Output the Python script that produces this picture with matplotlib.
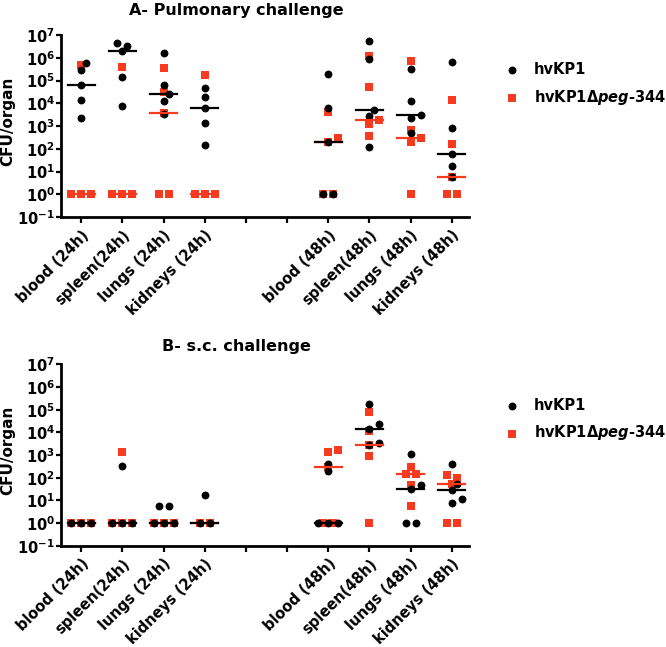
import matplotlib.pyplot as plt
import numpy as np

plt.rcParams["font.family"] = ["DejaVu Sans"]
plt.rcParams["font.weight"] = "bold"
plt.rcParams["axes.labelweight"] = "bold"
plt.rcParams["mathtext.fontset"] = "custom"
plt.rcParams["mathtext.rm"] = "DejaVu Sans:bold"
plt.rcParams["mathtext.it"] = "DejaVu Sans:bold:italic"
plt.rcParams["mathtext.bf"] = "DejaVu Sans:bold"

# ---------------------------------------------------------------------
# Data (CFU/organ, 1 = detection limit)
# ---------------------------------------------------------------------

groups = ["blood (24h)", "spleen(24h)", "lungs (24h)", "kidneys (24h)",
          "blood (48h)", "spleen(48h)", "lungs (48h)", "kidneys (48h)"]
group_pos = [0, 1, 2, 3, 6, 7, 8, 9]

pulm_wt = [
    [5.6e5, 2.9e5, 6.3e4, 1.4e4, 2.3e3],
    [4.6e6, 3.4e6, 1.9e6, 1.4e5, 7.2e3],
    [1.7e6, 6.3e4, 2.5e4, 1.3e4, 3.5e3],
    [4.5e4, 1.9e4, 6.5e3, 1.4e3, 1.4e2],
    [2.0e5, 5.9e3, 2.0e2, 1, 1],
    [5.6e6, 9.1e5, 5.0e3, 2.7e3, 1.2e2],
    [3.3e5, 1.2e4, 2.9e3, 2.3e3, 5.0e2],
    [6.8e5, 8.5e2, 58, 17, 5.8],
]
pulm_mut = [
    [4.8e5, 1, 1, 1],
    [3.8e5, 1, 1, 1],
    [3.4e5, 3.2e4, 3.8e3, 1, 1],
    [1.7e5, 1, 1, 1],
    [4.0e3, 3.1e2, 2.0e2, 1, 1],
    [1.2e6, 5.0e4, 1.8e3, 1.2e3, 3.6e2],
    [7.1e5, 6.6e2, 3.1e2, 2.0e2, 1],
    [1.4e4, 1.7e2, 5.8, 1, 1],
]
sc_wt = [
    [1, 1, 1],
    [3.4e2, 1, 1, 1],
    [5.6, 5.6, 1, 1, 1],
    [17, 1, 1],
    [3.9e2, 1.9e2, 1, 1, 1],
    [1.8e5, 2.3e4, 1.4e4, 3.5e3, 2.8e3],
    [1.1e3, 48, 31, 1, 1],
    [4.0e2, 50, 30, 12, 7.6],
]
sc_mut = [
    [1, 1, 1],
    [1.4e3, 1, 1, 1],
    [1, 1, 1],
    [1, 1],
    [1.7e3, 1.4e3, 2.9e2, 1, 1],
    [7.6e4, 1.1e4, 2.8e3, 8.7e2, 1],
    [3.0e2, 1.4e2, 1.4e2, 48, 5.6],
    [1.3e2, 1.0e2, 52, 1, 1],
]

BLACK = "black"
RED = "#F83B1E"


def swarm(vals, px_unit=41.2, px_decade=22.7, step=5.0, mindist=7.0):
    # simple beeswarm on a grid of sideways steps
    logs = np.log10(vals)
    placed = []
    offs = np.zeros(len(vals))
    for i in np.argsort(logs):
        y = logs[i] * px_decade
        k = 0
        found = None
        while found is None:
            for c in ([0] if k == 0 else [k, -k]):
                x = c * step
                if all(np.hypot(x - px, y - py) >= mindist for px, py in placed):
                    found = x
                    break
            k += 1
        placed.append((found, y))
        offs[i] = found
    # center runs of identical values
    for v in np.unique(logs):
        same = logs == v
        if same.sum() > 1:
            offs[same] -= offs[same].mean()
    return offs / px_unit


def draw_panel(ax, wt, mut, title, title_y, legend_y):
    for pos, w, m in zip(group_pos, wt, mut):
        m = np.array(m, dtype=float)
        w = np.array(w, dtype=float)
        hm = ax.scatter(pos + swarm(m), m, marker="s", s=28, color=RED,
                        linewidths=0, zorder=3)
        hw = ax.scatter(pos + swarm(w), w, marker="o", s=32, color=BLACK,
                        linewidths=0, zorder=4)
        ax.plot([pos - 0.33, pos + 0.33], [np.median(m)] * 2, color=RED,
                lw=1.6, zorder=5)
        ax.plot([pos - 0.33, pos + 0.33], [np.median(w)] * 2, color=BLACK,
                lw=1.6, zorder=6)

    ax.set_yscale("log")
    ax.set_ylim(1e-1, 1e7)
    ax.set_xlim(-0.49, 9.42)
    exps = range(-1, 8)
    ax.set_yticks([10.0 ** e for e in exps])
    ax.set_yticklabels([r"$10^{%d}$" % e for e in exps])
    ax.yaxis.set_minor_locator(plt.NullLocator())
    ax.set_xticks(range(10))
    labels = [""] * 10
    for pos, g in zip(group_pos, groups):
        labels[pos] = g
    ax.set_xticklabels(labels, rotation=45, ha="right", rotation_mode="anchor",
                       fontsize=10.5)
    ax.tick_params(axis="y", labelsize=10.5, length=3.5, width=1.6, pad=1)
    ax.tick_params(axis="x", length=4.5, width=1.6, pad=3)
    for side in ["top", "right"]:
        ax.spines[side].set_visible(False)
    for side in ["left", "bottom"]:
        ax.spines[side].set_linewidth(2)
    ax.set_ylabel("CFU/organ", fontsize=11)
    ax.yaxis.set_label_coords(-0.113, 0.525)
    ax.text(0.43, title_y, title, transform=ax.transAxes, ha="center",
            va="baseline", fontsize=11.5)
    ax.legend([hw, hm], ["hvKP1", r"hvKP1Δ$\mathit{peg}$-$\mathit{344}$"],
              loc="upper left", bbox_to_anchor=(1.0875, legend_y),
              frameon=False, borderaxespad=0, borderpad=0, handlelength=1.0,
              handletextpad=1.0, labelspacing=0.75, fontsize=10.5)


fig = plt.figure(figsize=(6.66, 6.47), dpi=100)
ax_a = fig.add_axes([0.0916, 0.6646, 0.6126, 0.2813])
ax_b = fig.add_axes([0.0916, 0.1566, 0.6126, 0.2803])

draw_panel(ax_a, pulm_wt, pulm_mut, "A- Pulmonary challenge", 1.11, 0.854)
draw_panel(ax_b, sc_wt, sc_mut, "B- s.c. challenge", 1.073, 0.817)

plt.savefig("out.png", dpi=100)
